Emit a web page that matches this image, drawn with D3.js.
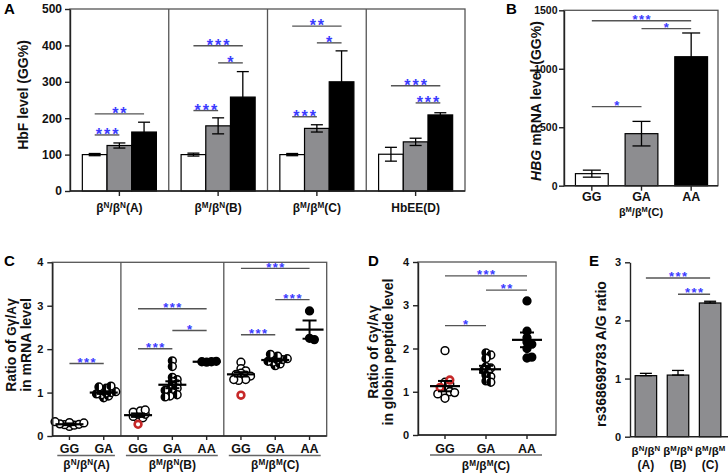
<!DOCTYPE html>
<html>
<head>
<meta charset="utf-8">
<script src="https://cdn.jsdelivr.net/npm/d3@7"></script>
<style>
body { margin: 0; background: #fff; }
svg text { font-family: "Liberation Sans", Arial, sans-serif; font-weight: bold; }
</style>
</head>
<body>
<svg id="fig" width="728" height="473"></svg>
<script>
// ---- data ----
// A: HbF level
var groupsA = ["β^N/β^N(A)", "β^M/β^N(B)", "β^M/β^M(C)", "HbEE(D)"];
var genotypes = ["GG", "GA", "AA"];
var hbfMean = [[100, 125, 162], [100, 179, 258], [100, 172, 300], [101, 135, 209]];
var hbfErr = [[3, 7, 27], [4, 22, 70], [3, 10, 85], [19, 10, 6]];
// [group, from, to, level, stars]
var sigA = [[0, 0, 2, 212, "**"], [0, 0, 1, 154, "***"],
            [1, 0, 2, 399, "***"], [1, 1, 2, 352, "*"], [1, 0, 1, 221, "***"],
            [2, 0, 2, 453, "**"], [2, 1, 2, 407, "*"], [2, 0, 1, 204, "***"],
            [3, 0, 2, 289, "***"], [3, 1, 2, 242, "***"]];

// B: HBG mRNA
var hbgMean = [103, 445, 1103];
var hbgErr = [30, 105, 203];
var sigB = [[0, 2, 1411, "***"], [1, 2, 1343, "*"], [0, 1, 676, "*"]];

// C: Gγ/Aγ mRNA ratio, one column per genotype inside each group
var ratioGroups = ["β^N/β^N(A)", "β^M/β^N(B)", "β^M/β^M(C)"];
var ratioCats = [["GG", "GA"], ["GG", "GA", "AA"], ["GG", "GA", "AA"]];
var mrnaPts = [
  [0.22, 0.25, 0.26, 0.27, 0.28, 0.30, 0.31, 0.33],
  [0.88, 0.92, 0.95, 0.97, 0.99, 1.0, 1.02, 1.05, 1.1, 1.13, 1.15],
  [0.40, 0.42, 0.45, 0.50, 0.50, 0.55, 0.58, 0.60],
  [1.73, 1.6, 1.35, 1.3, 1.25, 1.2, 1.15, 1.1, 1.08, 1.05, 1.0, 0.95, 0.92, 0.9],
  [1.70, 1.71, 1.71, 1.72],
  [1.70, 1.55, 1.50, 1.45, 1.42, 1.40, 1.38, 1.35, 1.30, 1.28, 1.30],
  [1.62, 1.66, 1.70, 1.72, 1.75, 1.76, 1.78, 1.80, 1.84, 1.88],
  [2.88, 2.25, 2.22]
];
var mrnaRed = [[], [], [0.27], [], [], [0.94], [], []];
var mrnaMean = [0.27, 1.0, 0.48, 1.18, 1.71, 1.42, 1.75, 2.45];
var mrnaSem = [0.02, 0.03, 0.04, 0.08, 0.01, 0.05, 0.03, 0.21];
var sigC = [[0, 1, 1.67, "***"], [2, 4, 2.93, "***"], [3, 4, 2.43, "*"], [2, 3, 2.01, "***"],
            [5, 7, 3.86, "***"], [6, 7, 3.14, "***"], [5, 6, 2.33, "***"]];

// D: Gγ/Aγ globin peptide ratio
var pepPts = [
  [1.95, 1.22, 1.18, 1.05, 1.0, 0.97, 0.95, 0.85, 0.98],
  [1.9, 1.85, 1.77, 1.58, 1.55, 1.5, 1.45, 1.38, 1.35, 1.25, 1.22],
  [3.1, 2.4, 2.25, 2.15, 2.1, 2.0, 1.78, 1.8]
];
var pepRed = [[1.27, 1.1], [], []];
var pepMean = [1.13, 1.52, 2.2];
var pepSem = [0.12, 0.08, 0.17];
var sigD = [[0, 2, 3.68, "***"], [1, 2, 3.35, "**"], [0, 1, 2.53, "*"]];

// E: rs368698783 A/G ratio
var snpTop = ["β^N/β^N", "β^M/β^N", "β^M/β^M"];
var snpBottom = ["(A)", "(B)", "(C)"];
var snpMean = [1.05, 1.06, 2.30];
var snpErr = [0.04, 0.08, 0.03];
var sigE = [[0, 2, 2.73, "***"], [1, 2, 2.45, "***"]];

// ---- drawing ----
var svg = d3.select("#fig");
var FONT = '"Liberation Sans", Arial, sans-serif';
var blue = "#3b3bff", axisCol = "#222", boxCol = "#555", sigCol = "#555", grey = "#8d8d90";

// "^X" -> superscript X
function rich(sel, str, size) {
  var up = false;
  str.split(/(\^.)/).forEach(function (p) {
    if (!p) return;
    if (p[0] === "^") {
      sel.append("tspan").attr("font-size", size * 0.68).attr("dy", up ? 0 : -size * 0.34).text(p[1]);
      up = true;
    } else {
      sel.append("tspan").attr("dy", up ? size * 0.34 : 0).text(p);
      up = false;
    }
  });
  return sel;
}

function label(x, y, str, size, anchor) {
  var t = svg.append("text").attr("x", x).attr("y", y).attr("font-size", size)
    .attr("text-anchor", anchor || "middle").attr("fill", "#111");
  return rich(t, str, size);
}

function leftAxis(x, y, ticks, fs, pad) {
  var g = svg.append("g").attr("transform", "translate(" + x + ",0)")
    .call(d3.axisLeft(y).tickValues(ticks).tickSize(5).tickSizeOuter(0)
      .tickPadding(pad).tickFormat(d3.format("d")));
  g.attr("font-family", FONT).attr("font-size", fs);
  g.select(".domain").attr("stroke", axisCol).attr("stroke-width", 1.4);
  g.selectAll(".tick line").attr("stroke", axisCol).attr("stroke-width", 1.4);
  g.selectAll(".tick text").attr("fill", "#111");
}

function hline(x1, x2, y, col, w) {
  svg.append("line").attr("x1", x1).attr("x2", x2).attr("y1", y).attr("y2", y)
    .attr("stroke", col).attr("stroke-width", w);
}
function vline(x, y1, y2, col, w) {
  svg.append("line").attr("x1", x).attr("x2", x).attr("y1", y1).attr("y2", y2)
    .attr("stroke", col).attr("stroke-width", w);
}

function stars(x1, x2, y, txt, big) {
  hline(x1, x2, y, sigCol, 1.4);
  var fs = big ? 16 : 13, ls = big ? 2 : 1.5;
  svg.append("text").attr("x", (x1 + x2) / 2 + ls / 2).attr("y", y + (big ? 5 : 3.2))
    .attr("text-anchor", "middle").attr("font-size", fs).attr("letter-spacing", ls)
    .attr("fill", blue).text(txt);
}

function rotLabel(x, y, size) {
  return svg.append("text").attr("transform", "translate(" + x + "," + y + ") rotate(-90)")
    .attr("text-anchor", "middle").attr("font-size", size).attr("fill", "#111");
}

function errBar(x, yTop, yBot, cap, col) {
  vline(x, yTop, yBot, col, 1.3);
  hline(x - cap / 2, x + cap / 2, yTop, col, 1.3);
  hline(x - cap / 2, x + cap / 2, yBot, col, 1.3);
}

// ---------- Panel A ----------
var yA = d3.scaleLinear().domain([0, 500]).range([191, 9]);
var gA = d3.scaleBand().domain(groupsA).range([70, 465]);
var bA = d3.scaleBand().domain(genotypes).range([0, gA.bandwidth()]).paddingOuter(0.5);
var fillA = {GG: "#fff", GA: grey, AA: "#000"};

svg.append("rect").attr("x", 70).attr("y", yA(500)).attr("width", 465 - 70).attr("height", yA(0) - yA(500))
  .attr("fill", "none").attr("stroke", boxCol).attr("stroke-width", 1.3);
groupsA.slice(1).forEach(function (g) { vline(gA(g), yA(500), yA(0), boxCol, 1.3); });

groupsA.forEach(function (g, i) {
  genotypes.forEach(function (k, j) {
    var x = gA(g) + bA(k), w = bA.bandwidth(), v = hbfMean[i][j];
    svg.append("rect").attr("x", x).attr("y", yA(v)).attr("width", w).attr("height", yA(0) - yA(v))
      .attr("fill", fillA[k]).attr("stroke", "#000").attr("stroke-width", 1.2);
    errBar(x + w / 2, yA(v + hbfErr[i][j]), yA(v - hbfErr[i][j]), 12, "#000");
  });
  vline(gA(g) + gA.bandwidth() / 2, yA(0), yA(0) + 5, axisCol, 1.4);
  label(gA(g) + gA.bandwidth() / 2, 212, g, 12);
});
sigA.forEach(function (s) {
  var g = groupsA[s[0]], c = bA.bandwidth() / 2;
  stars(gA(g) + bA(genotypes[s[1]]) + c, gA(g) + bA(genotypes[s[2]]) + c, yA(s[3]), s[4], true);
});
hline(70, 465, yA(0), axisCol, 1.4);
leftAxis(70, yA, [0, 100, 200, 300, 400, 500], 12, 3);
rotLabel(28, 95, 14).text("HbF level (GG%)");
svg.append("text").attr("x", 4).attr("y", 14).attr("font-size", 15).text("A");

// ---------- Panel B ----------
var yB = d3.scaleLinear().domain([0, 1500]).range([185.7, 10.3]);
var xB = d3.scaleBand().domain(genotypes).range([567, 716]).paddingInner(0.34).paddingOuter(0.17);

svg.append("rect").attr("x", 564).attr("y", yB(1500)).attr("width", 718 - 564).attr("height", yB(0) - yB(1500))
  .attr("fill", "none").attr("stroke", boxCol).attr("stroke-width", 1.3);
genotypes.forEach(function (k, j) {
  var x = xB(k), w = xB.bandwidth(), v = hbgMean[j];
  svg.append("rect").attr("x", x).attr("y", yB(v)).attr("width", w).attr("height", yB(0) - yB(v))
    .attr("fill", fillA[k]).attr("stroke", "#000").attr("stroke-width", 1.2);
  errBar(x + w / 2, yB(v + hbgErr[j]), yB(v - hbgErr[j]), 18, "#000");
  vline(x + w / 2, yB(0), yB(0) + 5, axisCol, 1.4);
  label(x + w / 2, 201, k, 12.5);
});
sigB.forEach(function (s) {
  var c = xB.bandwidth() / 2;
  stars(xB(genotypes[s[0]]) + c, xB(genotypes[s[1]]) + c, yB(s[2]), s[3], false);
});
hline(564, 718, yB(0), axisCol, 1.4);
leftAxis(564, yB, [0, 500, 1000, 1500], 10.5, 1.5);
var tB = rotLabel(540.5, 101, 14);
tB.append("tspan").attr("font-style", "italic").text("HBG");
tB.append("tspan").text(" mRNA level (GG%)");
label(641, 215.5, "β^M/β^M(C)", 11);
svg.append("text").attr("x", 506).attr("y", 14).attr("font-size", 15).text("B");

// ---------- scatter helpers ----------
function swarm(vals, y, step, minD) {
  var placed = [];
  return vals.map(function (v) {
    var py = y(v), dx = 0;
    for (var k = 0; k < 14; k++) {
      dx = (k % 2 ? 1 : -1) * Math.ceil(k / 2) * step;
      var ok = placed.every(function (p) { return Math.hypot(p[0] - dx, p[1] - py) >= minD; });
      if (ok) break;
    }
    placed.push([dx, py]);
    return [dx, py];
  });
}

function marker(cx, cy, kind) {
  var r = 3.9;
  if (kind === "red") {
    svg.append("circle").attr("cx", cx).attr("cy", cy).attr("r", 3.4)
      .attr("fill", "#fff").attr("stroke", "#c62828").attr("stroke-width", 2.6);
    return;
  }
  svg.append("circle").attr("cx", cx).attr("cy", cy).attr("r", r)
    .attr("fill", kind === "AA" ? "#000" : "#fff").attr("stroke", "#000").attr("stroke-width", 1.5);
  if (kind === "GA") {
    svg.append("path").attr("d", "M" + cx + "," + (cy - r) + "A" + r + "," + r + " 0 0 0 " + cx + "," + (cy + r) + "Z")
      .attr("fill", "#000");
  }
}

function column(cx, y, pts, red, kind, mean, sem, meanW) {
  var all = pts.map(function (v) { return [v, kind]; }).concat(red.map(function (v) { return [v, "red"]; }));
  var pos = swarm(all.map(function (d) { return d[0]; }), y, 2.4, 3.8);
  all.forEach(function (d, i) { if (d[1] !== "red") marker(cx + pos[i][0], pos[i][1], d[1]); });
  all.forEach(function (d, i) { if (d[1] === "red") marker(cx + pos[i][0], pos[i][1], "red"); });
  hline(cx - meanW / 2, cx + meanW / 2, y(mean), "#000", 2.2);
  vline(cx, y(mean + sem), y(mean - sem), "#000", 2);
  hline(cx - 7, cx + 7, y(mean + sem), "#000", 2);
  hline(cx - 7, cx + 7, y(mean - sem), "#000", 2);
}

function ratioLabel(x, y, second) {
  var t = rotLabel(x, y, 14);
  t.append("tspan").text("Ratio of  ");
  t.append("tspan").attr("font-size", 12).text("G");
  t.append("tspan").text("γ/");
  t.append("tspan").attr("font-size", 12).text("A");
  t.append("tspan").text("γ");
  rotLabel(x + 15, y, 14).text(second);
}

// ---------- Panel C ----------
var yC = d3.scaleLinear().domain([0, 4]).range([436, 262.3]);
var xC = d3.scaleLinear().domain([0, 8]).range([52.3, 326.7]);
var colKind = [], start = [0];
ratioCats.forEach(function (cats, gi) {
  cats.forEach(function (c) { colKind.push(c); });
  start.push(start[gi] + cats.length);
});

svg.append("rect").attr("x", xC(0)).attr("y", yC(4)).attr("width", xC(8) - xC(0)).attr("height", yC(0) - yC(4))
  .attr("fill", "none").attr("stroke", boxCol).attr("stroke-width", 1.3);
start.slice(1, -1).forEach(function (s) { vline(xC(s), yC(4), yC(0), boxCol, 1.3); });

colKind.forEach(function (k, i) {
  var cx = xC(i + 0.5);
  column(cx, yC, mrnaPts[i], mrnaRed[i], k, mrnaMean[i], mrnaSem[i], 28);
  vline(cx, yC(0), yC(0) + 4, axisCol, 1.4);
  label(cx, 452.5, k, 12.5);
});
ratioGroups.forEach(function (g, gi) {
  hline(xC(start[gi]) + 5, xC(start[gi + 1]) - 6, 455.5, "#666", 1.3);
  label((xC(start[gi]) + xC(start[gi + 1])) / 2, 469, g, 12);
});
sigC.forEach(function (s) { stars(xC(s[0] + 0.5), xC(s[1] + 0.5), yC(s[2]), s[3], false); });
hline(xC(0), xC(8), yC(0), axisCol, 1.4);
leftAxis(xC(0), yC, [0, 1, 2, 3, 4], 11, 4);
ratioLabel(16, 345, "in mRNA level");
svg.append("text").attr("x", 4).attr("y", 266).attr("font-size", 15).text("C");

// ---------- Panel D ----------
var yD = d3.scaleLinear().domain([0, 4]).range([435, 262]);
var xD = d3.scalePoint().domain(genotypes).range([445, 527]);
svg.append("rect").attr("x", 418).attr("y", yD(4)).attr("width", 556 - 418).attr("height", yD(0) - yD(4))
  .attr("fill", "none").attr("stroke", boxCol).attr("stroke-width", 1.3);
genotypes.forEach(function (k, i) {
  column(xD(k), yD, pepPts[i], pepRed[i], k, pepMean[i], pepSem[i], 30);
  vline(xD(k), yD(0), yD(0) + 4, axisCol, 1.4);
  label(xD(k), 452.5, k, 12.5);
});
hline(430, 542, 455, "#666", 1.3);
label(486, 470, "β^M/β^M(C)", 12);
sigD.forEach(function (s) { stars(xD(genotypes[s[0]]), xD(genotypes[s[1]]), yD(s[2]), s[3], false); });
hline(418, 556, yD(0), axisCol, 1.4);
leftAxis(418, yD, [0, 1, 2, 3, 4], 11, 4);
ratioLabel(378, 352, "in globin peptide level");
svg.append("text").attr("x", 368).attr("y", 266).attr("font-size", 15).text("D");

// ---------- Panel E ----------
var yE = d3.scaleLinear().domain([0, 3]).range([436.7, 262.3]);
var xE = d3.scaleBand().domain(snpTop).range([630, 726]).paddingInner(0.33).paddingOuter(0.16);
snpTop.forEach(function (k, i) {
  var x = xE(k), w = xE.bandwidth(), v = snpMean[i];
  svg.append("rect").attr("x", x).attr("y", yE(v)).attr("width", w).attr("height", yE(0) - yE(v))
    .attr("fill", grey).attr("stroke", "#000").attr("stroke-width", 1.2);
  errBar(x + w / 2, yE(v + snpErr[i]), yE(v), 12, "#000");
  label(x + w / 2, 455, k, 11.5);
  label(x + w / 2, 469, snpBottom[i], 12);
});
sigE.forEach(function (s) {
  var c = xE.bandwidth() / 2;
  stars(xE(snpTop[s[0]]) + c, xE(snpTop[s[1]]) + c, yE(s[2]), s[3], false);
});
hline(630, 728, yE(0), axisCol, 1.4);
leftAxis(630, yE, [0, 1, 2, 3], 11, 4);
rotLabel(606, 354, 14).text("rs368698783 A/G ratio");
svg.append("text").attr("x", 589).attr("y", 266).attr("font-size", 15).text("E");
</script>
</body>
</html>
